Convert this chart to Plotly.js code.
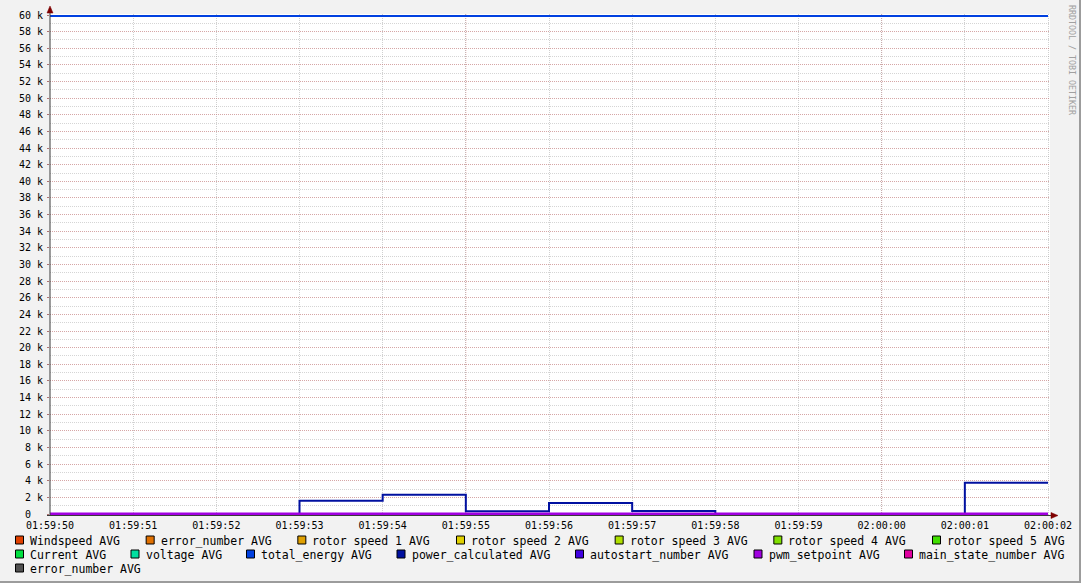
<!DOCTYPE html>
<html>
<head>
<meta charset="utf-8">
<script src="https://cdn.plot.ly/plotly-3.0.1.min.js"></script>
<style>html,body{margin:0;padding:0;background:#f2f2f2;}#chart{width:1081px;height:583px;}</style>
</head>
<body>
<div id="chart"></div>
<script>
// ---- data ----
const timestamps = ['01:59:50','01:59:51','01:59:52','01:59:53','01:59:54','01:59:55','01:59:56','01:59:57','01:59:58','01:59:59','02:00:00','02:00:01','02:00:02'];
const xTickText = ['01:59:50','01:59:51','01:59:52','01:59:53','01:59:54','01:59:55','01:59:56','01:59:57','01:59:58','01:59:59','02:00:00','02:00:01','02:00:02'];
const xMajorGrid = ['01:59:55','02:00:00'];
const yTickVals = [0,2000,4000,6000,8000,10000,12000,14000,16000,18000,20000,22000,24000,26000,28000,30000,32000,34000,36000,38000,40000,42000,44000,46000,48000,50000,52000,54000,56000,58000,60000];
const yTickText = ['0\u00a0\u00a0','2 k','4 k','6 k','8 k','10 k','12 k','14 k','16 k','18 k','20 k','22 k','24 k','26 k','28 k','30 k','32 k','34 k','36 k','38 k','40 k','42 k','44 k','46 k','48 k','50 k','52 k','54 k','56 k','58 k','60 k'];

const seriesNames = ['Windspeed AVG','error_number AVG','rotor speed 1 AVG','rotor speed 2 AVG','rotor speed 3 AVG','rotor speed 4 AVG','rotor speed 5 AVG','Current AVG','voltage AVG','total_energy AVG','power_calculated AVG','autostart_number AVG','pwm_setpoint AVG','main_state_number AVG','error_number AVG'];
const seriesColors = ['#e04000','#e07000','#e0a000','#e0d000','#b0e000','#80e000','#40e000','#00e040','#00e0a0','#0040e0','#0010a0','#4000e0','#a000e0','#e000a0','#505050'];

const windspeed       = [0,0,0,0,0,0,0,0,0,0,0,0,0];
const errorNumber     = [0,0,0,0,0,0,0,0,0,0,0,0,0];
const rotorSpeed1     = [0,0,0,0,0,0,0,0,0,0,0,0,0];
const rotorSpeed2     = [0,0,0,0,0,0,0,0,0,0,0,0,0];
const rotorSpeed3     = [0,0,0,0,0,0,0,0,0,0,0,0,0];
const rotorSpeed4     = [0,0,0,0,0,0,0,0,0,0,0,0,0];
const rotorSpeed5     = [0,0,0,0,0,0,0,0,0,0,0,0,0];
const current         = [0,0,0,0,0,0,0,0,0,0,0,0,0];
const voltage         = [0,0,0,0,0,0,0,0,0,0,0,0,0];
const totalEnergy     = [59880,59880,59880,59880,59880,59880,59880,59880,59880,59880,59880,59880,59880];
const powerCalculated = [0,0,0,1600,2320,320,1320,360,0,0,0,3760,3760];
const autostartNumber = [0,0,0,0,0,0,0,0,0,0,0,0,0];
const pwmSetpoint     = [0,0,0,0,0,0,0,0,0,0,0,0,0];
const mainStateNumber = [null,null,null,null,null,null,null,null,null,null,null,null,null];
const errorNumber2    = [null,null,null,null,null,null,null,null,null,null,null,null,null];

const seriesValues = [windspeed,errorNumber,rotorSpeed1,rotorSpeed2,rotorSpeed3,rotorSpeed4,rotorSpeed5,current,voltage,totalEnergy,powerCalculated,autostartNumber,pwmSetpoint,mainStateNumber,errorNumber2];

// ---- layout geometry (pixels) ----
const W = 1081, H = 583;
const PL = 50, PR = 1050, PT = 14, PB = 515;
const day = '2024-01-01 ';
const px2x = p => (p - PL) / (PR - PL);
const py2y = p => (PB - p) / (PB - PT);
const mono = 'DejaVu Sans Mono, monospace';

const xs = timestamps.map(t => day + t);

const traces = seriesNames.map((n, i) => ({
  type: 'scatter', mode: 'lines', name: n,
  x: xs, y: seriesValues[i],
  line: {shape: 'hv', color: seriesColors[i], width: i === 12 ? 3 : 2},
  hoverinfo: 'skip', showlegend: false
}));

const shapes = [];
const annotations = [];

// major red x grid
xMajorGrid.forEach(t => shapes.push({type: 'line', xref: 'x', yref: 'paper', x0: day + t, x1: day + t, y0: 0, y1: 1,
  line: {color: 'rgba(215,120,120,0.55)', width: 1, dash: '1px,1px'}, layer: 'below'}));

// axis lines
const axisColor = '#3a3a3a';
shapes.push({type: 'line', xref: 'paper', yref: 'paper', x0: px2x(50), x1: px2x(50), y0: py2y(516), y1: py2y(9), line: {color: axisColor, width: 1}});
shapes.push({type: 'line', xref: 'paper', yref: 'paper', x0: px2x(47), x1: px2x(1053), y0: py2y(515.5), y1: py2y(515.5), line: {color: axisColor, width: 1}});
// arrows
const arrowColor = '#7f0000';
shapes.push({type: 'path', xref: 'paper', yref: 'paper',
  path: `M ${px2x(47)} ${py2y(13)} L ${px2x(50)} ${py2y(6)} L ${px2x(53)} ${py2y(13)} Z`, fillcolor: arrowColor, line: {color: arrowColor, width: 0.5}});
shapes.push({type: 'path', xref: 'paper', yref: 'paper',
  path: `M ${px2x(1051)} ${py2y(512.5)} L ${px2x(1058)} ${py2y(515.5)} L ${px2x(1051)} ${py2y(518.5)} Z`, fillcolor: arrowColor, line: {color: arrowColor, width: 0.5}});

// frame shading (bottom/right)
shapes.push({type: 'rect', xref: 'paper', yref: 'paper', x0: px2x(0), x1: px2x(W), y0: py2y(H), y1: py2y(H - 2), fillcolor: '#9c9c9c', line: {width: 0}});
shapes.push({type: 'rect', xref: 'paper', yref: 'paper', x0: px2x(W - 2), x1: px2x(W), y0: py2y(H), y1: py2y(0), fillcolor: '#9c9c9c', line: {width: 0}});

// legend (rrdtool-style, justified rows)
const charW = 7, boxLead = 15, minGap = 14, legL = 15, legR = 1066;
const rows = [];
let cur = [], curW = 0;
seriesNames.forEach((n, i) => {
  const w = boxLead + n.length * charW;
  const need = cur.length ? curW + minGap + w : w;
  if (cur.length && need > legR - legL) { rows.push(cur); cur = [i]; curW = w; }
  else { cur.push(i); curW = need; }
});
if (cur.length) rows.push(cur);
rows.forEach((row, r) => {
  const widths = row.map(i => boxLead + seriesNames[i].length * charW);
  const total = widths.reduce((a, b) => a + b, 0);
  const last = r === rows.length - 1;
  const gap = (!last && row.length > 1) ? (legR - legL - total) / (row.length - 1) : minGap;
  let x = legL;
  const cy = 540 + r * 14;
  row.forEach((i, k) => {
    shapes.push({type: 'rect', xref: 'paper', yref: 'paper', x0: px2x(x + 0.5), x1: px2x(x + 8.5), y0: py2y(cy + 4), y1: py2y(cy - 4),
      fillcolor: seriesColors[i], line: {color: '#000', width: 1}});
    annotations.push({xref: 'paper', yref: 'paper', x: px2x(x + 13), y: py2y(cy + 0.5), xanchor: 'left', yanchor: 'middle',
      text: seriesNames[i], showarrow: false, font: {family: mono, size: 11.5, color: '#000'}});
    x += widths[k] + gap;
  });
});

// watermark
annotations.push({xref: 'paper', yref: 'paper', x: px2x(1072), y: py2y(60), xanchor: 'center', yanchor: 'middle',
  text: 'RRDTOOL / TOBI OETIKER', textangle: 90, showarrow: false, font: {family: mono, size: 8.3, color: '#a0a0a0'}});

const layout = {
  width: W, height: H,
  paper_bgcolor: '#f2f2f2', plot_bgcolor: '#ffffff',
  margin: {l: PL, r: W - PR, t: PT, b: H - PB, pad: 0},
  showlegend: false,
  xaxis: {
    type: 'date', range: [day + '01:59:50', day + '02:00:02.024'],
    tickvals: xs, ticktext: xTickText,
    showgrid: true, gridcolor: 'rgba(150,150,150,0.45)', griddash: '1px,1px', gridwidth: 1,
    zeroline: false, showline: false, ticks: '', automargin: false,
    tickfont: {family: mono, size: 10, color: '#000'}, ticklabelstandoff: 3, fixedrange: true
  },
  yaxis: {
    range: [-120, 60120],
    tickvals: yTickVals, ticktext: yTickText,
    showgrid: true, gridcolor: 'rgba(215,120,120,0.5)', griddash: '1px,1px', gridwidth: 1,
    minor: {dtick: 1000, tick0: 1000, showgrid: true, gridcolor: 'rgba(150,150,150,0.4)', griddash: '1px,1px', ticks: ''},
    zeroline: false, showline: false, ticks: 'outside', ticklen: 2, tickcolor: 'rgba(130,30,30,0.6)',
    automargin: false, tickfont: {family: mono, size: 10, color: '#000'}, ticklabelstandoff: 2, fixedrange: true
  },
  shapes: shapes, annotations: annotations
};

Plotly.newPlot('chart', traces, layout, {displayModeBar: false, staticPlot: true});
</script>
</body>
</html>
